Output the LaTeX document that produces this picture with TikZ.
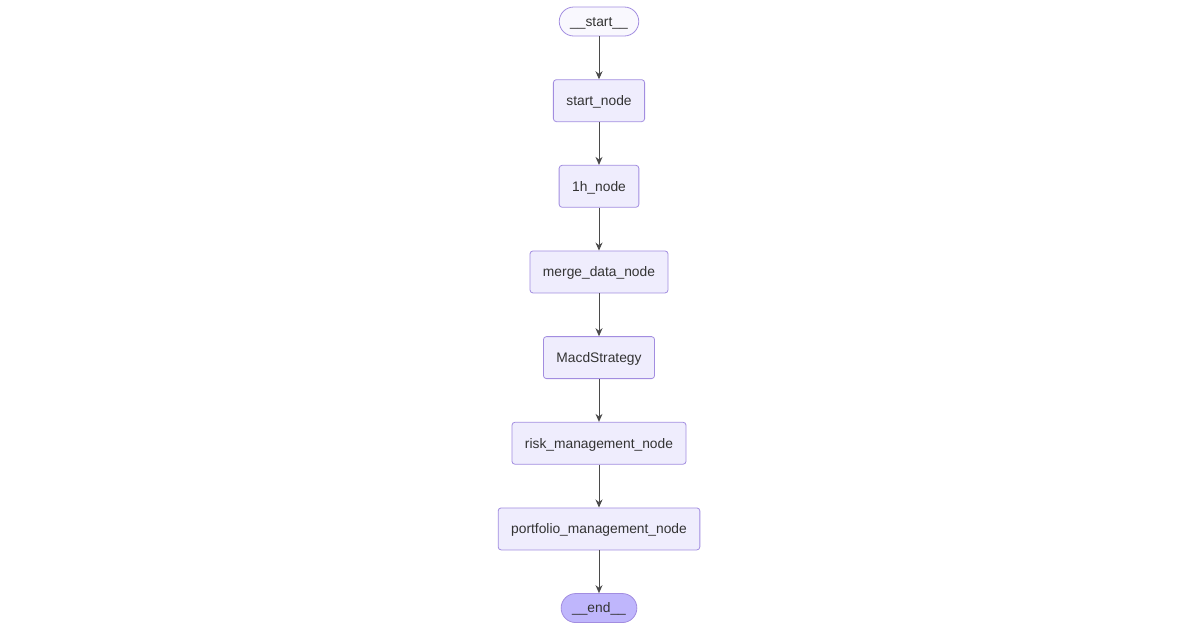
\documentclass[tikz,border=0pt]{standalone}
\usepackage{fontspec}
\setmainfont{Liberation Sans}
\definecolor{flowFill}{HTML}{EFEDFD}
\definecolor{flowStroke}{HTML}{A28DE0}
\definecolor{flowEnd}{HTML}{BFB6FC}
\definecolor{flowText}{HTML}{333333}
\definecolor{flowEdge}{HTML}{4A4A4A}
\usetikzlibrary{arrows.meta,positioning}

\begin{document}
\begin{tikzpicture}[x=1pt, y=-1pt,
  node distance=42.85pt,
  box/.style={draw=flowStroke, fill=flowFill, line width=0.8pt, rounded corners=3pt,
              minimum height=42pt, inner xsep=13pt, text=flowText,
              text height=11.5pt, text depth=2pt,
              font=\fontsize{13.8}{16}\selectfont},
  pill/.style={box, rounded corners=14.5pt, minimum height=29pt, inner xsep=11pt},
  flow/.style={-{Stealth[length=8pt, width=7pt]}, line width=0.9pt, flowEdge}
]
  \useasboundingbox (0,0) rectangle (1200,630);

  \node[pill, fill=flowFill!40]              (start)  at (599,21.5) {\_\_start\_\_};
  \node[box, below=of start]                 (init)   {start\_node};
  \node[box, below=of init]                  (hour)   {1h\_node};
  \node[box, below=of hour]                  (merge)  {merge\_data\_node};
  \node[box, below=of merge]                 (macd)   {MacdStrategy};
  \node[box, below=of macd]                  (risk)   {risk\_management\_node};
  \node[box, below=of risk]                  (folio)  {portfolio\_management\_node};
  \node[pill, fill=flowEnd, below=of folio]  (end)    {\_\_end\_\_};

  \draw[flow] (start) -- (init);
  \draw[flow] (init)  -- (hour);
  \draw[flow] (hour)  -- (merge);
  \draw[flow] (merge) -- (macd);
  \draw[flow] (macd)  -- (risk);
  \draw[flow] (risk)  -- (folio);
  \draw[flow] (folio) -- (end);
\end{tikzpicture}
\end{document}
